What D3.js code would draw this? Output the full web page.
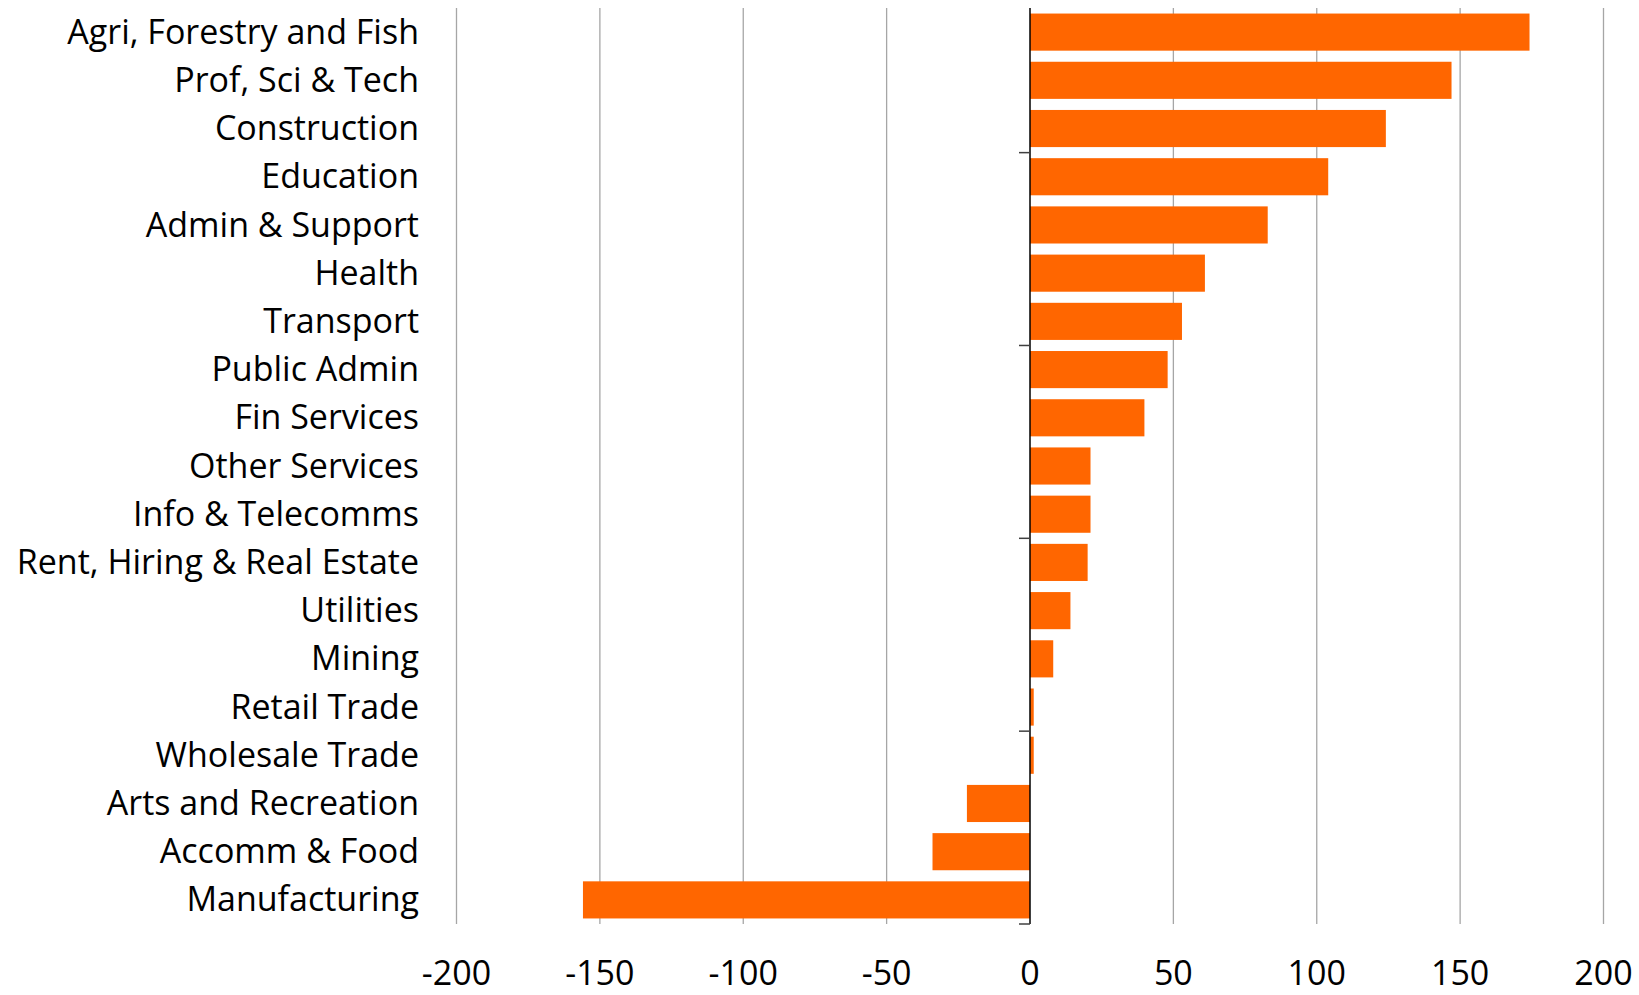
<!DOCTYPE html>
<html>
<head>
<meta charset="utf-8">
<script src="https://cdn.jsdelivr.net/npm/d3@7"></script>
<style>
  html, body { margin: 0; padding: 0; background: #fff; }
  svg { display: block; }
  text { font-family: "Open Sans", "Noto Sans", sans-serif; fill: #000; }
</style>
</head>
<body>
<svg id="chart" width="1639" height="995"></svg>
<script>
const categories = [
  "Agri, Forestry and Fish", "Prof, Sci & Tech", "Construction", "Education",
  "Admin & Support", "Health", "Transport", "Public Admin", "Fin Services",
  "Other Services", "Info & Telecomms", "Rent, Hiring & Real Estate", "Utilities",
  "Mining", "Retail Trade", "Wholesale Trade", "Arts and Recreation",
  "Accomm & Food", "Manufacturing"
];
const values = [
  174.2, 147.0, 124.1, 104.0, 82.9, 61.0, 53.0, 48.0, 39.9,
  21.1, 21.1, 20.1, 14.1, 8.1, 1.3, 1.3, -22.0, -34.0, -155.9
];
const xTicks = [-200, -150, -100, -50, 0, 50, 100, 150, 200];

const svg = d3.select("#chart");
const x = d3.scaleLinear().domain([-200, 200]).range([456.5, 1603.5]);
const y = d3.scaleBand().domain(categories).range([8, 924]).paddingInner(0.23).paddingOuter(0.115);

// gridlines
svg.append("g").selectAll("line").data(xTicks.filter(d => d !== 0)).join("line")
  .attr("x1", d => x(d)).attr("x2", d => x(d))
  .attr("y1", 8).attr("y2", 924)
  .attr("stroke", "#a6a6a6").attr("stroke-width", 1.3);

// bars
svg.append("g").selectAll("rect").data(categories).join("rect")
  .attr("x", (d, i) => x(Math.min(0, values[i])))
  .attr("width", (d, i) => Math.abs(x(values[i]) - x(0)))
  .attr("y", d => y(d))
  .attr("height", y.bandwidth())
  .attr("fill", "#FF6600");

// zero axis with ticks every 4 categories from bottom
const step = y.step();
const n = categories.length;
const bounds = d3.range(0, n + 1).filter(i => (n - i) % 4 === 0);
const ax = svg.append("g");
ax.append("line").attr("x1", x(0)).attr("x2", x(0)).attr("y1", 8).attr("y2", 924)
  .attr("stroke", "#000").attr("stroke-width", 1.5);
ax.selectAll("line.tk").data(bounds).join("line").attr("class", "tk")
  .attr("x1", x(0) - 11).attr("x2", x(0))
  .attr("y1", i => 8 + i * step).attr("y2", i => 8 + i * step)
  .attr("stroke", "#404040").attr("stroke-width", 1.5);

// category labels
svg.append("g").selectAll("text").data(categories).join("text")
  .attr("x", 419)
  .attr("y", d => y(d) + y.bandwidth() / 2)
  .attr("dy", "0.34em")
  .attr("text-anchor", "end")
  .attr("font-size", 34)
  .text(d => d);

// x tick labels
svg.append("g").selectAll("text").data(xTicks).join("text")
  .attr("x", d => x(d))
  .attr("y", 985)
  .attr("text-anchor", "middle")
  .attr("font-size", 34)
  .text(d => d);
</script>
</body>
</html>
